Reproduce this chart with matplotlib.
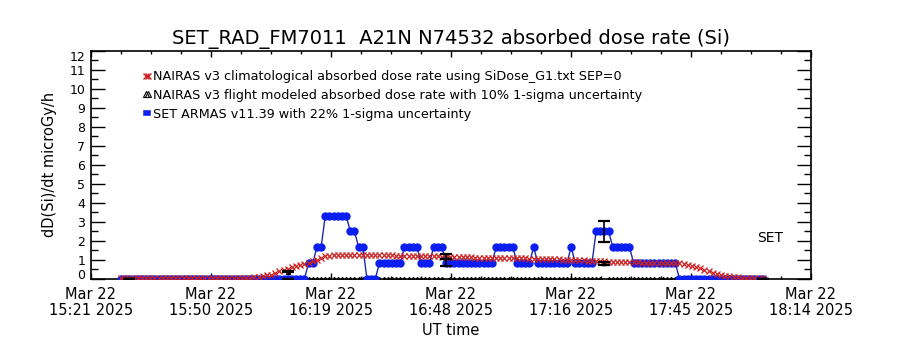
import numpy as np
import pandas as pd
import matplotlib
matplotlib.use("Agg")
import matplotlib.pyplot as plt
import matplotlib.dates as mdates
from matplotlib.lines import Line2D
from matplotlib.ticker import FixedLocator, MultipleLocator
from datetime import timedelta

plt.rcParams['font.family'] = ['DejaVu Sans']

# ---- data -------------------------------------------------------------
# 1-minute samples along the flight
sample_start = "2025-03-22 15:29"
n_samples = 155

# SET ARMAS v11.39 dose rate (microGy/h), run-length encoded: level, number of samples
set_levels = [0.0, 0.83, 1.66, 3.32, 2.49, 1.66, 0.0, 0.83, 1.66, 0.83, 1.66,
              0.83, 1.66, 0.83, 1.66, 0.83, 1.66, 0.83, 2.49, 1.66, 0.83, 0.0]
set_counts = [45, 2, 2, 6, 2, 2, 3, 6, 4, 3, 3,
              12, 5, 4, 1, 8, 1, 5, 4, 5, 11, 21]

# NAIRAS v3 climatological absorbed dose rate (microGy/h)
nairas_clim = [
    0.06, 0.06, 0.06, 0.06, 0.06, 0.06, 0.06, 0.06, 0.06, 0.06,
    0.06, 0.06, 0.06, 0.06, 0.06, 0.06, 0.06, 0.06, 0.06, 0.06,
    0.06, 0.06, 0.06, 0.06, 0.06, 0.06, 0.06, 0.06, 0.06, 0.06,
    0.06, 0.06, 0.08, 0.10, 0.14, 0.18, 0.22, 0.30, 0.38, 0.46,
    0.53, 0.60, 0.66, 0.72, 0.78, 0.84, 0.92, 1.01, 1.10, 1.17,
    1.22, 1.25, 1.26, 1.26, 1.26, 1.26, 1.26, 1.26, 1.26, 1.26,
    1.26, 1.25, 1.25, 1.24, 1.23, 1.23, 1.22, 1.21, 1.21, 1.20,
    1.20, 1.19, 1.19, 1.18, 1.18, 1.17, 1.17, 1.16, 1.16, 1.15,
    1.15, 1.14, 1.13, 1.12, 1.12, 1.11, 1.10, 1.10, 1.10, 1.09,
    1.09, 1.09, 1.08, 1.08, 1.08, 1.07, 1.07, 1.07, 1.06, 1.06,
    1.05, 1.05, 1.04, 1.03, 1.03, 1.02, 1.01, 1.00, 0.99, 0.98,
    0.97, 0.96, 0.95, 0.94, 0.93, 0.92, 0.91, 0.90, 0.89, 0.88,
    0.88, 0.87, 0.87, 0.86, 0.86, 0.85, 0.85, 0.85, 0.85, 0.84,
    0.84, 0.84, 0.84, 0.84, 0.83, 0.80, 0.74, 0.68, 0.61, 0.54,
    0.46, 0.39, 0.32, 0.26, 0.20, 0.15, 0.12, 0.09, 0.07, 0.06,
    0.06, 0.06, 0.06, 0.06, 0.06,
]

# NAIRAS v3 flight-modeled dose rate: computed at a few samples, zero elsewhere
flight_index = [2, 40, 78, 116, 154]
flight_values = [0.0, 0.37, 1.17, 0.81, 0.0]

flight_unc = 0.10   # 1-sigma, fractional
set_unc = 0.22      # 1-sigma, fractional

# time axis
axis_start = "2025-03-22 15:21:42"
tick_step_min = 28.8
n_intervals = 6

# ---- build series ---------------------------------------------------
times = pd.date_range(sample_start, periods=n_samples, freq="1min")
set_rate = np.repeat(set_levels, set_counts)
nairas_flight = np.zeros(n_samples)
nairas_flight[flight_index] = flight_values

t_axis0 = pd.Timestamp(axis_start).to_pydatetime()
major_ticks = [t_axis0 + timedelta(minutes=tick_step_min * i) for i in range(n_intervals + 1)]
minor_ticks = [t_axis0 + timedelta(minutes=tick_step_min / 4 * i) for i in range(n_intervals * 4 + 1)]

# ---- figure ---------------------------------------------------------
fig = plt.figure(figsize=(9, 3.5), dpi=100)
ax = fig.add_axes([0.1008, 0.2037, 0.8, 0.6514])

blue_line = '#1c2aa8'
blue_mark = '#0a1ef0'
red = '#cc2222'

# flight-modeled zeros along the floor
ax.plot(times, nairas_flight, linestyle='none', marker='^', ms=3,
        color='black', zorder=2)

ax.plot(times, set_rate, color=blue_line, lw=1.0, marker='o', ms=5,
        mfc=blue_mark, mec=blue_mark, zorder=3)

ax.plot(times, nairas_clim, linestyle='none', marker='x', ms=4, mew=0.9,
        color=red, zorder=4)

sel_t = times[flight_index]
ax.errorbar(sel_t, set_rate[flight_index], yerr=set_rate[flight_index] * set_unc,
            fmt='none', ecolor='black', elinewidth=1.2, capsize=4, capthick=1.6,
            zorder=5)
ax.errorbar(sel_t, nairas_flight[flight_index],
            yerr=nairas_flight[flight_index] * flight_unc,
            fmt='none', ecolor='black', elinewidth=1.2, capsize=4, capthick=1.6,
            zorder=5)

# ---- axes -----------------------------------------------------------
ax.set_xlim(major_ticks[0], major_ticks[-1])
ax.set_ylim(0, 12)

ax.xaxis.set_major_locator(FixedLocator(mdates.date2num(major_ticks)))
ax.xaxis.set_minor_locator(FixedLocator(mdates.date2num(minor_ticks)))
ax.xaxis.set_major_formatter(mdates.DateFormatter('%b %d\n%H:%M %Y'))

ax.set_yticks(range(0, 13))
ax.yaxis.set_minor_locator(MultipleLocator(0.5))

ax.tick_params(axis='y', which='major', direction='in', length=10, width=1,
               right=True, labelsize=9, pad=4)
ax.tick_params(axis='y', which='minor', direction='in', length=5, width=1,
               right=True)
ax.tick_params(axis='x', which='major', direction='in', length=4.5, width=1,
               top=True, labelsize=10.5, pad=6)
ax.tick_params(axis='x', which='minor', direction='in', length=2.5, width=1,
               top=True)

for tl in ax.get_xticklabels():
    tl.set_linespacing(1.05)

# keep the end labels inside the frame height
yticks = ax.yaxis.get_major_ticks()
yticks[0].label1.set_va('baseline')
yticks[-1].label1.set_va('top')

for sp in ax.spines.values():
    sp.set_linewidth(1.2)

ax.set_title('SET_RAD_FM7011  A21N N74532 absorbed dose rate (Si)',
             fontsize=14, pad=5)
ax.set_ylabel('dD(Si)/dt microGy/h', fontsize=10.5, labelpad=9)
ax.set_xlabel('UT time', fontsize=10.5, labelpad=4)

ax.text(0.943, 0.178, 'SET', transform=ax.transAxes, fontsize=10,
        ha='center', va='center')

handles = [
    Line2D([], [], linestyle='none', marker='x', ms=4, mew=1.0, color=red),
    Line2D([], [], linestyle='none', marker='^', ms=4, mfc='none', mec='black', mew=0.8),
    Line2D([], [], color=blue_mark, lw=4),
]
labels = [
    'NAIRAS v3 climatological absorbed dose rate using SiDose_G1.txt SEP=0',
    'NAIRAS v3 flight modeled absorbed dose rate with 10% 1-sigma uncertainty',
    'SET ARMAS v11.39 with 22% 1-sigma uncertainty',
]
ax.legend(handles, labels, loc='upper left', bbox_to_anchor=(0.072, 0.915),
          frameon=False, fontsize=9.2, handlelength=0.7, handletextpad=0.1,
          labelspacing=0.45, borderpad=0, borderaxespad=0, numpoints=2)

fig.savefig('out.png', dpi=100)
